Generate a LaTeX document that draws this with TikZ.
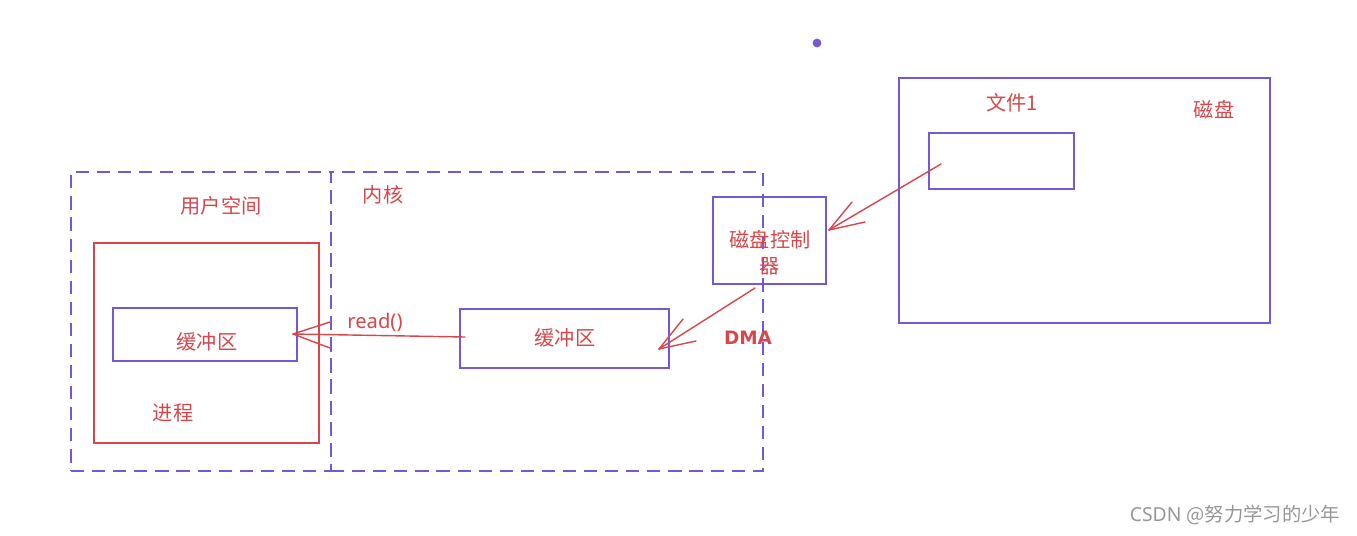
\documentclass[tikz,border=0pt]{standalone}
\usepackage{fontspec}
\setmainfont{Noto Sans CJK SC}
\newfontfamily\latinfont{Noto Sans}
\newfontfamily\handfont{DejaVu Sans}
\usetikzlibrary{fit}
\definecolor{pur}{RGB}{118,88,214}
\definecolor{rd}{RGB}{214,70,74}
\definecolor{wm}{RGB}{150,150,150}
\tikzset{
  region/.style={draw=pur, line width=1.1pt, dash pattern=on 7.5pt off 4.5pt, inner sep=0pt},
  pbox/.style={draw=pur, line width=0.9pt, inner sep=0pt},
  rbox/.style={draw=rd, line width=0.9pt, inner sep=0pt},
  lbl/.style={text=rd, font=\fontsize{11.5}{14}\selectfont, inner sep=0pt},
  hand/.style={text=rd, font=\latinfont\fontsize{11.5}{14}\selectfont, inner sep=0pt},
  conn/.style={draw=rd, line width=0.8pt, line cap=round},
}
\begin{document}
\begin{tikzpicture}[x=0.02cm, y=-0.02cm]
\useasboundingbox (0,0) rectangle (1357,535);
% regions
\node[region, fit={(71,172)(331,471)}] (user) {};
\node[region, fit={(331,172)(763,471)}] (kernel) {};
\node[lbl] (userlbl) at (221,206) {用户空间};
\node[lbl] (kernlbl) at (383,195) {内核};
% process
\node[rbox, fit={(94,243)(319,443)}] (proc) {};
\node[pbox, fit={(113,308)(297,361)}] (ubuf) {};
\node[lbl] (ubuftxt) at (207,342) {缓冲区};
\node[lbl] (proclbl) at (173,413) {进程};
% kernel buffer
\node[pbox, fit={(460,309)(669,368)}] (kbuf) {};
\node[lbl] (kbuftxt) at (565,338) {缓冲区};
% disk controller
\node[pbox, fit={(713,197)(826,284)}] (ctrl) {};
\node[lbl, align=center] (ctrltxt) at (770,253) {磁盘控制\\[1pt]器};
% disk
\node[pbox, fit={(899,78)(1270,323)}] (disk) {};
\node[pbox, fit={(929,133)(1074,189)}] (file) {};
\node[lbl] (filelbl) at (1012,103) {文件1};
\node[lbl] (disklbl) at (1214,110) {磁盘};
% dot
\fill[pur] (817,43) circle (2.5pt);
% arrows
\coordinate (a1s) at (941,164);
\coordinate (a1t) at (829,230);
\draw[conn] (a1s) -- (a1t);
\draw[conn] (a1t) -- (852,202);
\draw[conn] (a1t) -- (865,222);
\coordinate (a2s) at (755,288);
\coordinate (a2t) at (659,349);
\draw[conn] (a2s) -- (a2t);
\draw[conn] (a2t) -- (683,319);
\draw[conn] (a2t) -- (696,341);
\coordinate (a3s) at (465,337);
\coordinate (a3t) at (293,334);
\draw[conn] (a3s) -- (a3t);
\draw[conn] (a3t) -- (330,322);
\draw[conn] (a3t) -- (330,348);
\node[hand] (readlbl) at (375,322) {read()};
\node[hand, font=\handfont\bfseries\fontsize{10.5}{13}\selectfont] (dmalbl) at (748,338) {DMA};
% watermark
\node[text=wm, font=\latinfont\fontsize{11}{13}\selectfont, inner sep=0pt] (wmk) at (1235,515) {CSDN {\rmfamily @努力学习的少年}};
\end{tikzpicture}
\end{document}
